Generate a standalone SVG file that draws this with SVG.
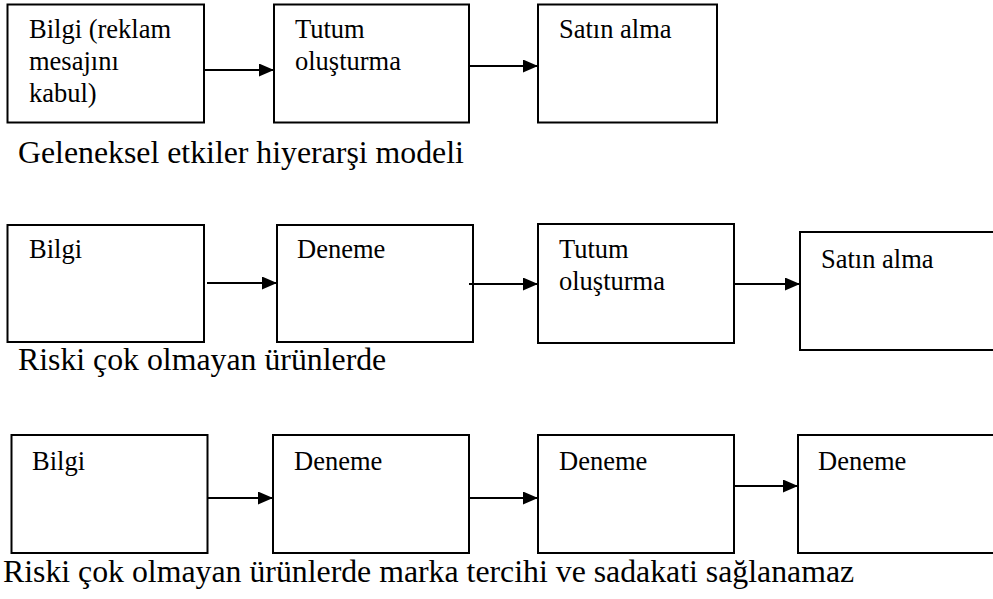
<svg xmlns="http://www.w3.org/2000/svg" width="993" height="599" viewBox="0 0 993 599" font-family="'Liberation Serif', 'Times New Roman', Times, 'DejaVu Serif', serif">
<style>
rect.box{fill:#fff;stroke:#000;stroke-width:2}
text{fill:#000}
.t{font-size:26.5px}
.cap{font-size:31.8px}
.arr{stroke:#000;stroke-width:2;fill:none;marker-end:url(#ah)}
</style>
<defs>
<marker id="ah" markerUnits="userSpaceOnUse" markerWidth="16" markerHeight="14" refX="15" refY="6.5" orient="auto">
<path d="M0,0 L15,6.5 L0,13 z" fill="#000"/>
</marker>
</defs>
<rect width="993" height="599" fill="#fff"/>

<g id="row1-box1"><rect class="box" x="7.5" y="4.5" width="196.5" height="118"/>
<text class="t" x="29" y="38">Bilgi (reklam</text>
<text class="t" x="29" y="70">mesajını</text>
<text class="t" x="29" y="102">kabul)</text></g>
<g id="row1-box2"><rect class="box" x="274" y="4.5" width="195" height="118"/>
<text class="t" x="295" y="38">Tutum</text>
<text class="t" x="295" y="70">oluşturma</text></g>
<g id="row1-box3"><rect class="box" x="538" y="4.5" width="179" height="118"/>
<text class="t" x="559" y="38">Satın alma</text></g>
<text id="caption1" class="cap" x="18" y="163">Geleneksel etkiler hiyerarşi modeli</text>

<g id="row2-box1"><rect class="box" x="7.5" y="225" width="196.5" height="117"/>
<text class="t" x="29" y="258">Bilgi</text></g>
<g id="row2-box2"><rect class="box" x="277" y="225" width="196" height="117"/>
<text class="t" x="297" y="258">Deneme</text></g>
<g id="row2-box3"><rect class="box" x="538" y="224" width="196" height="119"/>
<text class="t" x="559" y="258">Tutum</text>
<text class="t" x="559" y="290">oluşturma</text></g>
<g id="row2-box4"><rect class="box" x="800" y="232" width="210" height="118"/>
<text class="t" x="821" y="268">Satın alma</text></g>
<text id="caption2" class="cap" x="18" y="370">Riski çok olmayan ürünlerde</text>

<g id="row3-box1"><rect class="box" x="11.5" y="435" width="196" height="118"/>
<text class="t" x="32" y="470">Bilgi</text></g>
<g id="row3-box2"><rect class="box" x="273" y="435" width="196" height="118"/>
<text class="t" x="294" y="470">Deneme</text></g>
<g id="row3-box3"><rect class="box" x="538" y="435" width="196" height="118"/>
<text class="t" x="559" y="470">Deneme</text></g>
<g id="row3-box4"><rect class="box" x="798" y="435" width="210" height="118"/>
<text class="t" x="818" y="470">Deneme</text></g>
<text id="caption3" class="cap" x="3" y="582">Riski çok olmayan ürünlerde marka tercihi ve sadakati sağlanamaz</text>

<g id="connectors">
<line class="arr" x1="204" y1="70" x2="274" y2="70"/>
<line class="arr" x1="469" y1="66" x2="538" y2="66"/>
<line class="arr" x1="207" y1="283" x2="277" y2="283"/>
<line class="arr" x1="469" y1="284" x2="538" y2="284"/>
<line class="arr" x1="734" y1="284" x2="800" y2="284"/>
<line class="arr" x1="207.5" y1="498" x2="273" y2="498"/>
<line class="arr" x1="469" y1="498" x2="538" y2="498"/>
<line class="arr" x1="734" y1="486" x2="798" y2="486"/>
</g>
</svg>
